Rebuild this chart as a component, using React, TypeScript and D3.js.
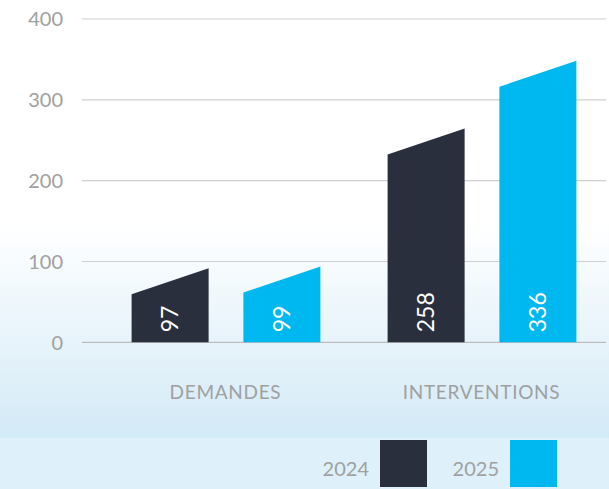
import React, { useEffect, useRef } from "react";
import * as d3 from "d3";

const categories = ["DEMANDES", "INTERVENTIONS"];
const years = ["2024", "2025"];
const values2024 = [97, 258];
const values2025 = [99, 336];
const yTicks = [0, 100, 200, 300, 400];
const colors = ["#2a2f3d", "#00b8f0"];

const FONT = "Lato, 'Open Sans', sans-serif";

const App: React.FC = () => {
  const svgRef = useRef<SVGSVGElement | null>(null);

  useEffect(() => {
    if (!svgRef.current) return;
    const svg = d3.select(svgRef.current);
    svg.selectAll("*").remove();

    const width = 609;
    const height = 489;

    // background: white fading into pale blue, lighter band behind legend
    const defs = svg.append("defs");
    const grad = defs
      .append("linearGradient")
      .attr("id", "bg")
      .attr("x1", 0)
      .attr("y1", 0)
      .attr("x2", 0)
      .attr("y2", 1);
    grad.append("stop").attr("offset", "0%").attr("stop-color", "#ffffff");
    grad.append("stop").attr("offset", "51%").attr("stop-color", "#ffffff");
    grad.append("stop").attr("offset", "100%").attr("stop-color", "#d3eaf7");

    svg
      .append("rect")
      .attr("width", width)
      .attr("height", 438)
      .attr("fill", "url(#bg)");
    svg
      .append("rect")
      .attr("y", 438)
      .attr("width", width)
      .attr("height", height - 438)
      .attr("fill", "#def0f9");

    const y = d3.scaleLinear().domain([0, 400]).range([342.3, 19]);
    // bar tops sit on their own scale, with a slanted top edge
    const yBar = d3.scaleLinear().domain([0, 400]).range([352.6, 5.2]);
    const slant = 26;

    const x0 = d3.scaleBand().domain(categories).range([98, 610]);
    const x1 = d3
      .scaleBand()
      .domain(years)
      .range([33.6, 222.4])
      .paddingInner(0.311);

    // gridlines + tick labels
    const grid = svg.append("g");
    grid
      .selectAll("line")
      .data(yTicks)
      .enter()
      .append("line")
      .attr("x1", 82)
      .attr("x2", 606)
      .attr("y1", (d) => y(d))
      .attr("y2", (d) => y(d))
      .attr("stroke", (d) => (d === 0 ? "#bcbcbc" : "#cfcfcf"))
      .attr("stroke-width", 1.2);
    grid
      .selectAll("text")
      .data(yTicks)
      .enter()
      .append("text")
      .attr("x", 63)
      .attr("y", (d) => y(d))
      .attr("dy", "0.36em")
      .attr("text-anchor", "end")
      .attr("font-family", FONT)
      .attr("font-size", 20)
      .attr("fill", "#a0a0a0")
      .text((d) => d);

    const rows = categories.map((c, i) => ({
      category: c,
      values: [values2024[i], values2025[i]],
    }));

    const groups = svg
      .selectAll("g.group")
      .data(rows)
      .enter()
      .append("g")
      .attr("class", "group")
      .attr("transform", (d) => `translate(${x0(d.category)},0)`);

    groups.each(function (row) {
      const g = d3.select(this);
      row.values.forEach((v, j) => {
        const bx = x1(years[j]) as number;
        const bw = x1.bandwidth();
        const base = y(0);
        const top = yBar(v);
        g.append("path")
          .attr(
            "d",
            `M${bx},${base}L${bx},${top + slant}L${bx + bw},${top}L${bx + bw},${base}Z`
          )
          .attr("fill", colors[j]);
        g.append("text")
          .attr(
            "transform",
            `translate(${bx + bw / 2},${base - 10}) rotate(-90)`
          )
          .attr("dy", "0.36em")
          .attr("font-family", FONT)
          .attr("font-size", 23)
          .attr("fill", "#fff")
          .text(v);
      });
      g.append("text")
        .attr("x", x0.bandwidth() / 2 - 0.5)
        .attr("y", 399)
        .attr("text-anchor", "middle")
        .attr("font-family", FONT)
        .attr("font-size", 19)
        .attr("letter-spacing", 0.7)
        .attr("fill", "#a0a0a0")
        .text(row.category);
    });

    // legend
    const legendX = [380, 510];
    years.forEach((yr, j) => {
      svg
        .append("rect")
        .attr("x", legendX[j])
        .attr("y", 440)
        .attr("width", 47)
        .attr("height", 47)
        .attr("fill", colors[j]);
      svg
        .append("text")
        .attr("x", legendX[j] - 11)
        .attr("y", 475.5)
        .attr("text-anchor", "end")
        .attr("font-family", FONT)
        .attr("font-size", 20)
        .attr("fill", "#a0a0a0")
        .text(yr);
    });
  }, []);

  return (
    <svg
      ref={svgRef}
      width={609}
      height={489}
      style={{ position: "absolute", left: 0, top: 0, display: "block" }}
    ></svg>
  );
};

export default App;
